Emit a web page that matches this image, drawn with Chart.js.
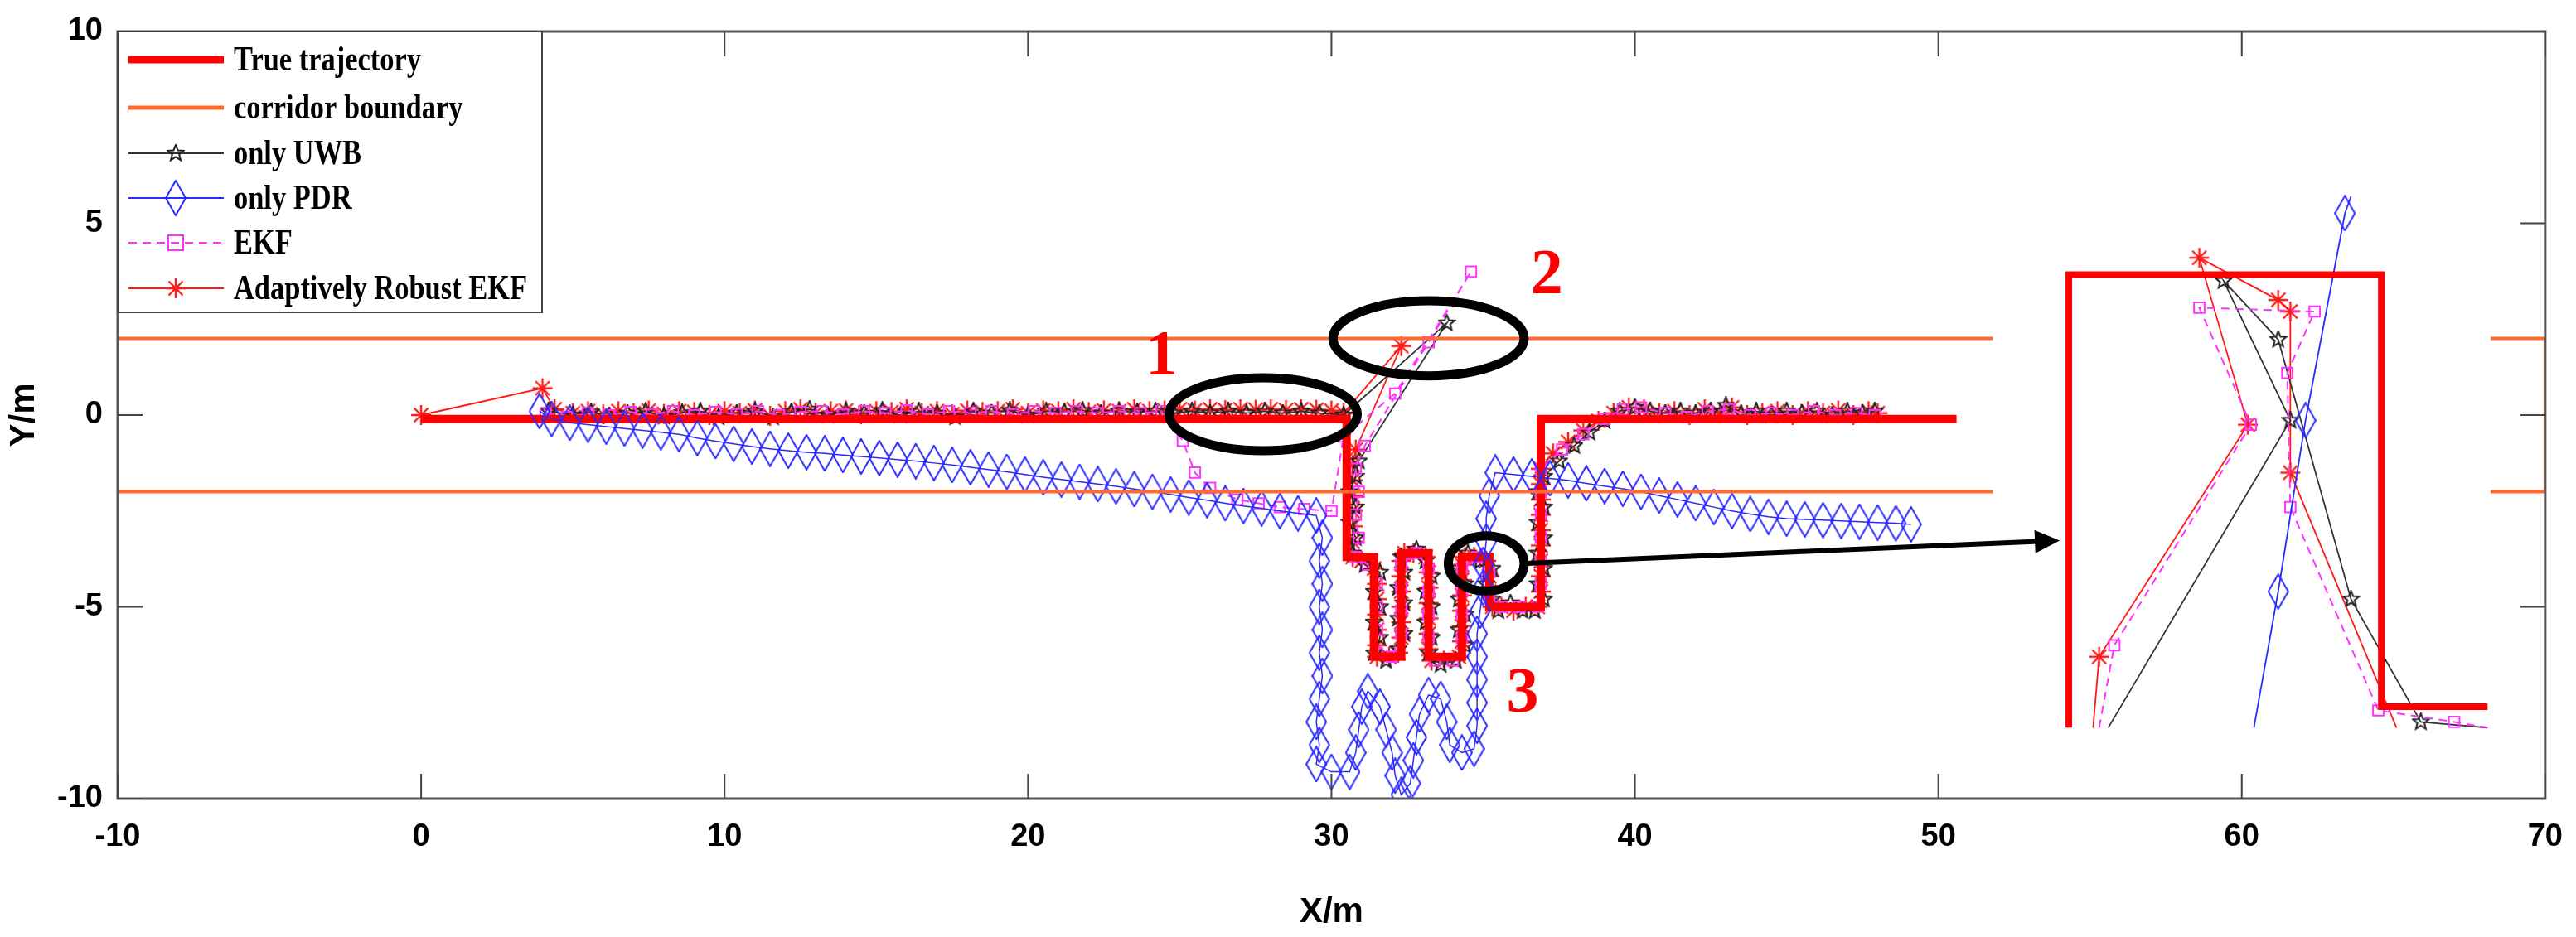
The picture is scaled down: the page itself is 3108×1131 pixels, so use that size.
<!DOCTYPE html>
<html><head><meta charset="utf-8">
<script src="https://cdn.jsdelivr.net/npm/chart.js@4"></script>
<style>html,body{margin:0;padding:0;background:#fff}canvas{display:block}</style>
</head><body>
<canvas id="c" width="3108" height="1131"></canvas>
<script>
// ---------- DATA ----------
const xTicks = [-10,0,10,20,30,40,50,60,70];
const yTicks = [-10,-5,0,5,10];
const legendLabels = ["True trajectory","corridor boundary","only UWB","only PDR","EKF","Adaptively Robust EKF"];

const truePath = [[0,-0.1],[30.5,-0.1],[30.5,-3.7],[31.4,-3.7],[31.4,-6.3],[32.3,-6.3],[32.3,-3.6],[33.2,-3.6],[33.2,-6.3],[34.3,-6.3],[34.3,-3.7],[35.2,-3.7],[35.2,-5.0],[36.9,-5.0],[36.9,-0.1],[50.6,-0.1]];
const corridorTop = [[-10,2],[51.8,2]];
const corridorBottom = [[-10,-2],[51.8,-2]];
const corridorBracket = [[68.2,2],[70,2],[70,-2],[68.2,-2]];

const areStart = [[0,0],[4,0.7],[4.4,0.15],[5,0.05],[5.5,0.1],[6,0.02],[6.5,0.1],[7,0.05],[7.5,0.12],[8,0.03],[8.5,0.1],[9,0.08],[9.5,0.0],[10,0.1],[10.5,0.05],[11,0.12],[11.5,-0.02],[12,0.1],[12.5,0.15],[13,0.05],[13.5,0.1],[14,0.12],[14.5,0.02],[15,0.1],[15.5,0.08],[16,0.15],[16.5,0.05],[17,0.1],[17.5,0.02],[18,0.12],[18.5,0.08],[19,0.1],[19.5,0.15],[20,0.05],[20.5,0.12],[21,0.1],[21.5,0.15],[22,0.08],[22.5,0.12],[23,0.1],[23.5,0.15],[24,0.1],[24.5,0.12],[25,0.15],[25.5,0.12],[26,0.15],[26.5,0.13],[27,0.15],[27.5,0.14],[28,0.15],[28.5,0.13],[29,0.15],[29.5,0.14],[30,0.12],[30.4,0.05],[32.3,1.8],[30.8,-0.9]];
const areMeander = [[30.7,-1.3],[30.7,-1.7],[30.7,-2.1],[30.7,-2.5],[30.7,-2.9],[30.7,-3.3],[30.7,-3.7],[31.0,-3.8],[31.4,-4.0],[31.5,-4.4],[31.5,-4.8],[31.5,-5.2],[31.5,-5.6],[31.5,-6.0],[31.5,-6.3],[31.9,-6.3],[32.2,-6.2],[32.3,-5.8],[32.3,-5.4],[32.3,-5.0],[32.3,-4.6],[32.3,-4.2],[32.3,-3.8],[32.4,-3.6],[32.7,-3.6],[33.1,-3.7],[33.2,-4.1],[33.2,-4.5],[33.2,-4.9],[33.2,-5.3],[33.2,-5.7],[33.2,-6.1],[33.3,-6.4],[33.7,-6.4],[34.2,-6.3],[34.3,-5.9],[34.3,-5.5],[34.3,-5.1],[34.3,-4.7],[34.3,-4.3],[34.3,-3.9],[34.4,-3.7],[34.7,-3.7],[35.1,-3.8],[35.2,-4.2],[35.2,-4.6],[35.3,-5.0],[35.6,-5.0],[36.0,-5.1],[36.4,-5.0],[36.8,-5.0],[36.9,-4.6],[36.9,-4.2],[36.9,-3.8],[36.9,-3.4],[36.9,-3.0],[36.9,-2.6],[36.9,-2.2],[36.9,-1.8]];
const areEnd = [[36.9,-1.4],[37.3,-1.0],[37.8,-0.7],[38.3,-0.4],[38.8,-0.15],[39.3,0.05],[39.8,0.2],[40.3,0.15],[40.8,0.05],[41.3,0.1],[41.8,0.0],[42.3,0.15],[42.8,0.05],[43.2,0.2],[43.7,0.0],[44.2,0.05],[44.7,0.1],[45.2,0.0],[45.7,0.1],[46.2,0.05],[46.7,0.12],[47.2,0.0],[47.7,0.1],[48,0.05]];

const uwbStart = [[4.2,0.1],[5,0.0],[5.6,0.08],[6.2,-0.02],[6.8,0.05],[7.4,0.1],[8,-0.03],[8.6,0.06],[9.2,0.1],[9.8,-0.05],[10.4,0.05],[11,0.1],[11.6,-0.05],[12.2,0.08],[12.8,0.15],[13.4,0.0],[14,0.1],[14.6,0.05],[15.2,0.12],[15.8,0.0],[16.4,0.1],[17,0.05],[17.6,-0.05],[18.2,0.1],[18.8,0.05],[19.4,0.12],[20,0.0],[20.6,0.1],[21.2,0.08],[21.8,0.12],[22.4,0.05],[23,0.1],[23.6,0.08],[24.2,0.1],[24.8,0.05],[25.4,0.1],[26,0.05],[26.6,0.1],[27.2,0.05],[27.8,0.1],[28.4,0.05],[29,0.1],[29.6,0.05],[30.4,0.0],[33.8,2.4],[30.9,-1.2]];
const uwbMeander = [[30.8,-1.6],[30.6,-2.0],[30.8,-2.4],[30.6,-2.8],[30.8,-3.2],[30.7,-3.6],[31.1,-3.9],[31.6,-4.1],[31.4,-4.6],[31.6,-5.0],[31.4,-5.4],[31.6,-5.8],[31.4,-6.2],[31.8,-6.4],[32.2,-6.1],[32.4,-5.7],[32.2,-5.3],[32.4,-4.9],[32.2,-4.5],[32.4,-4.1],[32.3,-3.7],[32.8,-3.5],[33.1,-3.8],[33.3,-4.2],[33.1,-4.6],[33.3,-5.0],[33.1,-5.4],[33.3,-5.8],[33.2,-6.2],[33.6,-6.5],[34.1,-6.4],[34.4,-6.0],[34.2,-5.6],[34.4,-5.2],[34.2,-4.8],[34.4,-4.4],[34.2,-4.0],[34.5,-3.6],[34.9,-3.8],[35.3,-4.0],[35.1,-4.4],[35.3,-4.8],[35.5,-5.1],[35.9,-4.9],[36.3,-5.1],[36.7,-5.1],[37.0,-4.8],[36.8,-4.4],[37.0,-4.0],[36.8,-3.6],[37.0,-3.2],[36.8,-2.8],[37.0,-2.4],[36.8,-2.0],[37.0,-1.6]];
const uwbEnd = [[37.5,-1.2],[38.0,-0.8],[38.5,-0.45],[39.0,-0.15],[39.5,0.1],[40.0,0.2],[40.5,0.1],[41.0,0.05],[41.5,0.1],[42.0,0.05],[42.5,0.1],[43.0,0.25],[43.5,0.05],[44.0,0.1],[44.5,0.0],[45.0,0.1],[45.5,0.05],[46.0,0.1],[46.5,0.0],[47.0,0.1],[47.5,0.05],[47.9,0.1]];

const ekfStart = [[4.1,0.05],[4.8,-0.05],[5.5,0.05],[6.2,0.0],[6.9,0.08],[7.6,0.02],[8.3,0.1],[9,0.0],[9.7,0.08],[10.4,0.02],[11.1,0.1],[11.8,0.0],[12.5,0.08],[13.2,0.1],[13.9,0.02],[14.6,0.1],[15.3,0.05],[16,0.12],[16.7,0.02],[17.4,0.1],[18.1,0.05],[18.8,0.1],[19.5,0.02],[20.2,0.1],[20.9,0.05],[21.6,0.1],[22.3,0.05],[23,0.1],[23.7,0.05],[24.4,0.1],[25.1,-0.67],[25.5,-1.5],[26.0,-1.9],[26.9,-2.2],[27.6,-2.3],[28.3,-2.4],[29.1,-2.45],[30,-2.5],[30.4,-0.56],[32.1,0.56],[34.6,3.74],[33.2,1.9],[31.1,-0.8]];
const ekfMeander = [[30.8,-1.4],[30.9,-2.0],[30.8,-2.6],[30.9,-3.2],[30.8,-3.7],[31.2,-3.9],[31.5,-4.4],[31.5,-5.0],[31.5,-5.6],[31.5,-6.2],[32.0,-6.3],[32.3,-5.7],[32.3,-5.1],[32.3,-4.5],[32.3,-3.9],[32.8,-3.6],[33.2,-4.0],[33.2,-4.6],[33.2,-5.2],[33.2,-5.8],[33.4,-6.4],[34.0,-6.4],[34.3,-5.8],[34.3,-5.2],[34.3,-4.6],[34.3,-4.0],[34.8,-3.7],[35.2,-4.1],[35.2,-4.7],[35.6,-5.0],[36.2,-5.0],[36.8,-5.0],[36.9,-4.4],[36.9,-3.8],[36.9,-3.2],[36.9,-2.6],[36.9,-2.0],[36.9,-1.4]];
const ekfEnd = [[37.6,-0.9],[38.3,-0.5],[39.0,-0.1],[39.6,0.15],[40.2,0.2],[41.0,0.05],[41.7,-0.05],[42.4,0.1],[43.1,0.15],[43.8,0.0],[44.5,0.05],[45.2,0.0],[45.9,0.1],[46.6,0.0],[47.3,0.05],[47.9,0.0]];

const pdrPath = [[3.9,0.1],[4.3,-0.1],[4.9,-0.2],[5.5,-0.25],[6.1,-0.3],[6.7,-0.35],[7.3,-0.4],[7.9,-0.45],[8.5,-0.5],[9.1,-0.6],[9.7,-0.68],[10.3,-0.75],[10.9,-0.82],[11.5,-0.88],[12.1,-0.93],[12.7,-0.97],[13.3,-1.0],[13.9,-1.04],[14.5,-1.08],[15.1,-1.12],[15.7,-1.16],[16.3,-1.2],[16.9,-1.25],[17.5,-1.3],[18.1,-1.36],[18.7,-1.42],[19.3,-1.48],[19.9,-1.55],[20.5,-1.62],[21.1,-1.68],[21.7,-1.74],[22.3,-1.8],[22.9,-1.86],[23.5,-1.93],[24.1,-2.0],[24.7,-2.07],[25.3,-2.15],[25.9,-2.22],[26.5,-2.3],[27.1,-2.37],[27.7,-2.43],[28.3,-2.5],[28.9,-2.56],[29.5,-2.62],
[29.7,-3.2],[29.6,-3.8],[29.7,-4.4],[29.6,-5.0],[29.7,-5.6],[29.6,-6.2],[29.7,-6.8],[29.6,-7.4],[29.5,-8.0],[29.6,-8.6],[29.5,-9.1],[30.0,-9.3],[30.6,-9.3],[30.8,-8.8],[30.9,-8.2],[31.0,-7.6],[31.2,-7.2],[31.6,-7.6],[31.8,-8.2],[32.0,-8.8],[32.1,-9.4],[32.3,-9.9],[32.6,-9.6],[32.7,-9.0],[32.8,-8.4],[32.9,-7.8],[33.2,-7.3],[33.6,-7.4],[33.8,-8.0],[33.9,-8.6],[34.3,-8.8],[34.7,-8.7],[34.8,-8.1],[34.8,-7.5],[34.8,-6.9],[34.8,-6.3],[34.8,-5.7],[34.9,-5.1],[35.0,-4.5],[35.0,-3.9],[35.1,-3.3],[35.1,-2.7],[35.2,-2.1],[35.4,-1.5],[36.0,-1.55],[36.6,-1.6],[37.2,-1.65],[37.8,-1.7],[38.4,-1.78],[39.0,-1.85],[39.6,-1.92],[40.2,-2.0],[40.8,-2.1],[41.4,-2.2],[42.0,-2.3],[42.6,-2.4],[43.2,-2.5],[43.8,-2.58],[44.4,-2.65],[45.0,-2.7],[45.6,-2.72],[46.2,-2.74],[46.8,-2.76],[47.4,-2.78],[48.0,-2.8],[48.6,-2.82],[49.1,-2.85]];

// Zoomed inset (drawn in the same axes)
const insetTrue = [[54.3,-8.15],[54.3,3.66],[64.6,3.66],[64.6,-7.6],[68.1,-7.6]];
const insetAre = [[55.1,-8.15],[55.3,-6.3],[60.2,-0.25],[58.6,4.1],[61.2,3.0],[61.6,2.7],[61.6,-1.5],[65.1,-8.15]];
const insetUwb = [[55.6,-8.15],[61.6,-0.14],[59.4,3.5],[61.2,1.97],[63.6,-4.8],[65.9,-8.0],[68.1,-8.15]];
const insetEkf = [[55.3,-8.15],[55.8,-6.0],[60.3,-0.25],[58.6,2.8],[62.4,2.7],[61.5,1.1],[61.6,-2.4],[64.5,-7.7],[67.0,-8.0],[68.1,-8.15]];
const insetPdr = [[60.4,-8.15],[61.2,-4.6],[62.1,-0.14],[63.4,5.26],[63.6,5.7]];

// Annotations (data coordinates)
const ellipses = [[27.75,0.02,3.1,0.95],[33.2,2.0,3.15,0.98],[35.1,-3.87,1.25,0.72]];
const arrowLine = [[36.3,-3.87],[54.0,-3.27]];
const labels = [["1",24.4,1.5],["2",37.1,3.6],["3",36.3,-7.3]];

// ---------- BUILD ----------
const P = a => a.map(p => ({x:p[0], y:p[1]}));
function starImg(color, size){
  const c = document.createElement('canvas'); c.width = c.height = size;
  const g = c.getContext('2d'); g.strokeStyle = color; g.lineWidth = 2;
  g.beginPath();
  for(let i=0;i<10;i++){const r = i%2? size*0.2 : size*0.46; const a = -Math.PI/2 + i*Math.PI/5;
    const x = size/2 + r*Math.cos(a), y = size/2 + r*Math.sin(a); i? g.lineTo(x,y) : g.moveTo(x,y);}
  g.closePath(); g.stroke(); return c;
}
function diaImg(color, w, h){
  const c = document.createElement('canvas'); c.width = w; c.height = h;
  const g = c.getContext('2d'); g.strokeStyle = color; g.lineWidth = 2;
  g.beginPath(); g.moveTo(w/2,1); g.lineTo(w-1,h/2); g.lineTo(w/2,h-1); g.lineTo(1,h/2); g.closePath(); g.stroke(); return c;
}
function astImg(color, size){
  const c = document.createElement('canvas'); c.width = c.height = size;
  const g = c.getContext('2d'); g.strokeStyle = color; g.lineWidth = 2.4;
  g.beginPath(); const r=size/2-1;
  for(let k=0;k<4;k++){const an=k*Math.PI/4+Math.PI/2; g.moveTo(size/2-r*Math.cos(an),size/2-r*Math.sin(an)); g.lineTo(size/2+r*Math.cos(an),size/2+r*Math.sin(an));}
  g.stroke(); return c;
}
const C_TRUE='#ff0000', C_COR='#ff6a30', C_UWB='#333333', C_PDR='#2a2aff', C_EKF='#ff33ff', C_ARE='#ff1a1a';
const pent = starImg('#222', 22);
const dia = diaImg(C_PDR, 26, 44);
const ast = astImg(C_ARE, 26);
const clipR = r => (ctx => (ctx.raw && (ctx.raw.y <= -8.1 || ctx.raw.y >= 5.5) ? 0 : r));

const base = {showLine:true, fill:false, tension:0, pointHoverRadius:0};
const ds = [
  {...base, data:P(corridorTop), borderColor:C_COR, borderWidth:4, pointRadius:0},
  {...base, data:P(corridorBottom), borderColor:C_COR, borderWidth:4, pointRadius:0},
  {...base, data:P(corridorBracket), borderColor:C_COR, borderWidth:4, pointRadius:0},
  {...base, data:P(pdrPath), borderColor:C_PDR, borderWidth:1.5, pointStyle:dia, pointRadius:12},
  {...base, data:P(truePath), borderColor:C_TRUE, borderWidth:10, pointRadius:0},
  {...base, data:P(ekfStart.concat(ekfMeander, ekfEnd)), borderColor:C_EKF, borderWidth:2, borderDash:[10,7], pointStyle:'rect', pointRadius:9, pointBorderColor:C_EKF, pointBackgroundColor:'rgba(0,0,0,0)', pointBorderWidth:2},
  {...base, data:P(uwbStart.concat(uwbMeander, uwbEnd)), borderColor:C_UWB, borderWidth:1.8, pointStyle:pent, pointRadius:10},
  {...base, data:P(areStart.concat(areMeander, areEnd)), borderColor:C_ARE, borderWidth:1.8, pointStyle:ast, pointRadius:12},
  {...base, data:P(insetTrue), borderColor:C_TRUE, borderWidth:8, pointRadius:0},
  {...base, data:P(insetPdr), borderColor:C_PDR, borderWidth:1.8, pointStyle:dia, pointRadius:clipR(12)},
  {...base, data:P(insetEkf), borderColor:C_EKF, borderWidth:2, borderDash:[10,7], pointStyle:'rect', pointRadius:clipR(9), pointBorderColor:C_EKF, pointBackgroundColor:'rgba(0,0,0,0)', pointBorderWidth:2},
  {...base, data:P(insetUwb), borderColor:C_UWB, borderWidth:1.8, pointStyle:pent, pointRadius:clipR(10)},
  {...base, data:P(insetAre), borderColor:C_ARE, borderWidth:1.8, pointStyle:ast, pointRadius:clipR(12)}
];

const overlay = {
  id:'overlay',
  afterDatasetsDraw(ch){
    const g = ch.ctx, xs = ch.scales.x, ys = ch.scales.y, a = ch.chartArea;
    g.save();
    g.strokeStyle='#000'; g.lineWidth=11;
    ellipses.forEach(e=>{
      const cx=xs.getPixelForValue(e[0]), cy=ys.getPixelForValue(e[1]);
      const rx=Math.abs(xs.getPixelForValue(e[0]+e[2])-cx), ry=Math.abs(ys.getPixelForValue(e[1]+e[3])-cy);
      g.beginPath(); g.ellipse(cx,cy,rx,ry,0,0,Math.PI*2); g.stroke();
    });
    const x1=xs.getPixelForValue(arrowLine[0][0]), y1=ys.getPixelForValue(arrowLine[0][1]);
    const x2=xs.getPixelForValue(arrowLine[1][0]), y2=ys.getPixelForValue(arrowLine[1][1]);
    const ang=Math.atan2(y2-y1,x2-x1);
    g.lineWidth=6; g.beginPath(); g.moveTo(x1,y1); g.lineTo(x2-20*Math.cos(ang),y2-20*Math.sin(ang)); g.stroke();
    g.fillStyle='#000'; g.beginPath(); g.moveTo(x2,y2);
    g.lineTo(x2-30*Math.cos(ang)+14*Math.sin(ang), y2-30*Math.sin(ang)-14*Math.cos(ang));
    g.lineTo(x2-30*Math.cos(ang)-14*Math.sin(ang), y2-30*Math.sin(ang)+14*Math.cos(ang));
    g.closePath(); g.fill();
    g.fillStyle='#ff0000'; g.font='bold 78px "Liberation Serif"'; g.textAlign='center'; g.textBaseline='middle';
    labels.forEach(l=>g.fillText(l[0], xs.getPixelForValue(l[1]), ys.getPixelForValue(l[2])));
    g.strokeStyle='#555'; g.lineWidth=3;
    g.strokeRect(a.left,a.top,a.right-a.left,a.bottom-a.top);
    g.lineWidth=2; g.strokeStyle='#444';
    xTicks.forEach(v=>{const p=xs.getPixelForValue(v); g.beginPath(); g.moveTo(p,a.bottom); g.lineTo(p,a.bottom-30); g.moveTo(p,a.top); g.lineTo(p,a.top+30); g.stroke();});
    yTicks.forEach(v=>{const p=ys.getPixelForValue(v); g.beginPath(); g.moveTo(a.left,p); g.lineTo(a.left+30,p); g.moveTo(a.right,p); g.lineTo(a.right-30,p); g.stroke();});
    const lx=a.left, ly=a.top, lw=512, lh=339;
    g.fillStyle='#fff'; g.fillRect(lx,ly,lw,lh);
    g.strokeStyle='#444'; g.lineWidth=2; g.strokeRect(lx,ly,lw,lh);
    const rows=[72,130,185,239,293,348].map(v=>v-38+ly);
    const styles=[{c:C_TRUE,w:9},{c:C_COR,w:5},{c:C_UWB,w:2,m:'pent'},{c:C_PDR,w:2,m:'dia'},{c:C_EKF,w:2,m:'sq',dash:[10,7]},{c:C_ARE,w:2,m:'ast'}];
    g.textAlign='left'; g.textBaseline='middle';
    styles.forEach((s,i)=>{
      const y=rows[i]; g.strokeStyle=s.c; g.lineWidth=s.w; g.setLineDash(s.dash||[]);
      g.beginPath(); g.moveTo(lx+13,y); g.lineTo(lx+128,y); g.stroke(); g.setLineDash([]);
      const mx=lx+70; g.lineWidth=2;
      if(s.m==='pent') g.drawImage(pent,mx-11,y-11);
      if(s.m==='dia') g.drawImage(dia,mx-13,y-22);
      if(s.m==='sq'){g.strokeRect(mx-9,y-9,18,18);}
      if(s.m==='ast') g.drawImage(ast,mx-13,y-13);
      g.fillStyle='#000';
      g.save(); g.translate(lx+140, y+2); g.scale(0.82,1); g.font='bold 42px "Liberation Serif"'; g.fillText(legendLabels[i], 0, 0); g.restore();
    });
    g.restore();
  }
};

new Chart(document.getElementById('c'), {
  type:'scatter',
  data:{datasets:ds},
  options:{
    responsive:false, animation:false, devicePixelRatio:1,
    layout:{padding:{top:38,right:30,left:0,bottom:0}},
    plugins:{legend:{display:false}, tooltip:{enabled:false}},
    scales:{
      x:{type:'linear', min:-10, max:70, afterBuildTicks:s=>{s.ticks=xTicks.map(v=>({value:v}));},
         grid:{display:false}, border:{display:false},
         ticks:{color:'#000', font:{family:'Liberation Sans', weight:'bold', size:38}, padding:16},
         title:{display:true, text:'X/m', color:'#000', font:{family:'Liberation Sans', weight:'bold', size:42}, padding:{top:18}},
         afterFit:s=>{s.height=167;}},
      y:{type:'linear', min:-10, max:10, afterBuildTicks:s=>{s.ticks=yTicks.map(v=>({value:v}));},
         grid:{display:false}, border:{display:false},
         ticks:{color:'#000', font:{family:'Liberation Sans', weight:'bold', size:38}, padding:10},
         title:{display:true, text:'Y/m', color:'#000', font:{family:'Liberation Sans', weight:'bold', size:42}, padding:{bottom:2}},
         afterFit:s=>{s.width=142;}}
    }
  },
  plugins:[overlay]
});
</script>
</body></html>
